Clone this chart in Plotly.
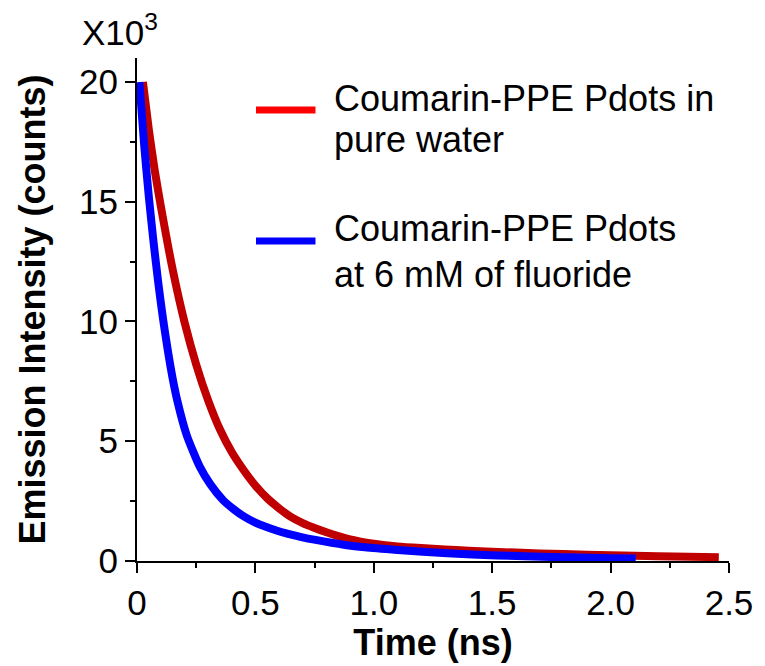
import plotly.graph_objects as go

# Data (Time in ns, intensity in counts x10^3)
red_time = [0.025, 0.05, 0.075, 0.10, 0.15, 0.20, 0.25, 0.30, 0.35, 0.40, 0.45,
            0.50, 0.55, 0.60, 0.65, 0.70, 0.75, 0.80, 0.85, 0.90, 0.95, 1.00,
            1.10, 1.20, 1.30, 1.40, 1.50, 1.60, 1.80, 2.00, 2.20, 2.457]
red_counts = [20.0, 18.0, 16.3, 14.85, 12.2, 10.0, 8.2, 6.72, 5.5, 4.55, 3.8,
              3.15, 2.62, 2.2, 1.84, 1.58, 1.38, 1.2, 1.04, 0.9, 0.8, 0.72,
              0.61, 0.54, 0.48, 0.43, 0.39, 0.35, 0.29, 0.24, 0.2, 0.16]

blue_time = [0.01, 0.03, 0.05, 0.07, 0.09, 0.11, 0.13, 0.15, 0.17, 0.21, 0.265,
             0.31, 0.363, 0.41, 0.453, 0.50, 0.544, 0.627, 0.69, 0.754, 0.879,
             0.962, 1.10, 1.31, 1.52, 1.75, 2.00, 2.106]
blue_counts = [20.0, 17.4, 15.2, 13.3, 11.6, 10.1, 8.8, 7.65, 6.7, 5.25, 3.94,
               3.2, 2.55, 2.15, 1.85, 1.6, 1.43, 1.16, 1.01, 0.88, 0.67,
               0.57, 0.46, 0.32, 0.23, 0.17, 0.12, 0.10]

x_tickvals = [0, 0.5, 1.0, 1.5, 2.0, 2.5]
x_ticktext = ["0", "0.5", "1.0", "1.5", "2.0", "2.5"]
y_tickvals = [0, 5, 10, 15, 20]
y_ticktext = ["0", "5", "10", "15", "20"]

series_names = ["Coumarin-PPE Pdots in pure water",
                "Coumarin-PPE Pdots at 6 mM of fluoride"]
legend_lines = [["Coumarin-PPE Pdots in", "pure water"],
                ["Coumarin-PPE Pdots", "at 6 mM of fluoride"]]

FONT = "Liberation Sans, Arial, sans-serif"
RED = "#c00000"
BLUE = "#0000ff"

fig = go.Figure()
fig.add_trace(go.Scatter(x=red_time, y=red_counts, mode="lines", name=series_names[0],
                         line=dict(color=RED, width=8, shape="spline", smoothing=0.6),
                         showlegend=False))
fig.add_trace(go.Scatter(x=blue_time, y=blue_counts, mode="lines", name=series_names[1],
                         line=dict(color=BLUE, width=8, shape="spline", smoothing=0.6),
                         showlegend=False))

axis_common = dict(
    showline=True, linecolor="black", linewidth=2,
    ticks="outside", ticklen=10, tickwidth=2, tickcolor="black",
    showgrid=False, zeroline=False,
    tickfont=dict(family=FONT, size=35, color="black"),
)

fig.update_xaxes(range=[0, 2.5], tickvals=x_tickvals, ticktext=x_ticktext,
                 minor=dict(ticks="outside", ticklen=5, tickwidth=2, tickcolor="black",
                            dtick=0.25, showgrid=False),
                 title=dict(text="<b>Time (ns)</b>", standoff=6,
                            font=dict(family=FONT, size=36, color="black")),
                 **axis_common)
fig.update_yaxes(range=[0, 21], tickvals=y_tickvals, ticktext=y_ticktext,
                 minor=dict(ticks="outside", ticklen=5, tickwidth=2, tickcolor="black",
                            dtick=2.5, showgrid=False),
                 title=dict(text="<b>Emission Intensity (counts)</b>", standoff=22,
                            font=dict(family=FONT, size=36, color="black")),
                 **axis_common)

# Custom legend (legend swatches are bright red / blue in the reference)
legend_colors = ["#ff0000", "#0000ff"]
legend_y = [0.8966, 0.636]
text_y = [[0.9195, 0.838], [0.662, 0.5686]]
for i in range(2):
    fig.add_shape(type="line", xref="paper", yref="paper",
                  x0=0.201, x1=0.3015, y0=legend_y[i], y1=legend_y[i],
                  line=dict(color=legend_colors[i], width=7))
    for j in range(2):
        fig.add_annotation(xref="paper", yref="paper", x=0.33, y=text_y[i][j],
                           xanchor="left", yanchor="middle", showarrow=False,
                           text=legend_lines[i][j],
                           font=dict(family=FONT, size=36, color="black"))

fig.add_annotation(xref="paper", yref="paper", x=-0.097, y=1.056,
                   xanchor="left", yanchor="middle", showarrow=False,
                   text="X10<sup>3</sup>",
                   font=dict(family=FONT, size=35, color="black"))

fig.update_layout(
    width=765, height=666,
    margin=dict(l=137, r=31, t=58, b=105),
    plot_bgcolor="white", paper_bgcolor="white",
    font=dict(family=FONT, color="black"),
)

fig.write_html("out.html")
